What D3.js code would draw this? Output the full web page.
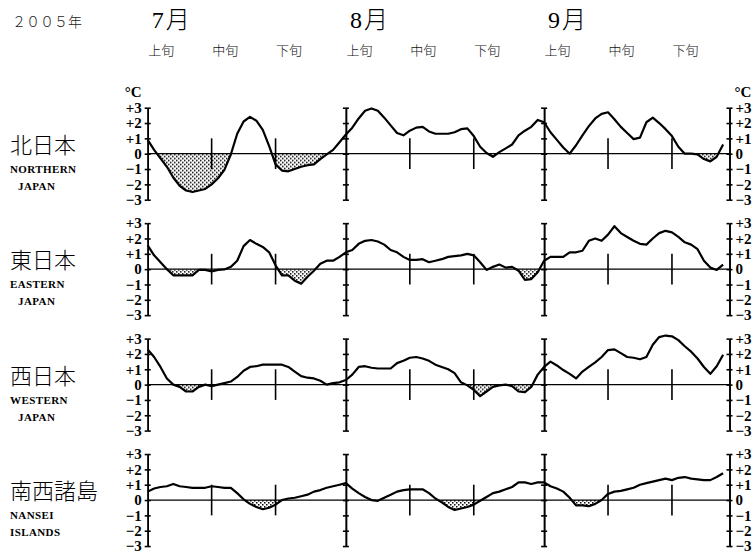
<!DOCTYPE html>
<html>
<head>
<meta charset="utf-8">
<script src="https://cdn.jsdelivr.net/npm/d3@7"></script>
<style>
  body { margin: 0; background: #fff; }
  svg { display: block; }
  .yaxis text { font-family: "Liberation Serif", serif; font-weight: bold; font-size: 15px; fill: #000; }
  .yaxis path, .yaxis line { stroke: #000; stroke-width: 1.6; }
</style>
</head>
<body>
<div id="chart"></div>
<script>
var svgWidth = 755;
var svgHeight = 556;

// labels
var yearLabel = "２００５年";
var monthLabels = ["7月", "8月", "9月"];
var monthStarts = [0, 31, 62];
var dekadLabels = ["上旬", "中旬", "下旬"];
var dekadOffsets = [0, 10, 20];
var regionNames = ["北日本", "東日本", "西日本", "南西諸島"];
var regionSub = [["NORTHERN", "JAPAN"], ["EASTERN", "JAPAN"], ["WESTERN", "JAPAN"], ["NANSEI", "ISLANDS"]];
var yTicks = [-3, -2, -1, 0, 1, 2, 3];

// daily anomaly (°C), 1 Jul - 30 Sep
var north = [0.9, 0.25, -0.3, -0.85, -1.55, -2.1, -2.4, -2.5, -2.4, -2.3,
  -2.0, -1.6, -1.05, -0.05, 1.3, 2.1, 2.4, 2.15, 1.55, 0.5,
  -0.7, -1.1, -1.15, -1.0, -0.85, -0.75, -0.7, -0.35, -0.05, 0.25,
  0.75, 1.25, 1.7, 2.3, 2.8, 2.95, 2.8, 2.35, 1.85, 1.35,
  1.2, 1.5, 1.7, 1.75, 1.45, 1.3, 1.3, 1.3, 1.4, 1.6,
  1.65, 1.15, 0.45, 0.05, -0.2, 0.1, 0.35, 0.6, 1.2, 1.5,
  1.75, 2.2, 2.05, 1.4, 0.9, 0.4, 0.0, 0.55, 1.2, 1.8,
  2.3, 2.6, 2.7, 2.25, 1.75, 1.35, 0.95, 1.05, 2.05, 2.35,
  2.0, 1.6, 1.15, 0.45, 0.0, 0.0, -0.05, -0.35, -0.5, -0.2,
  0.6];
var east = [1.55, 0.9, 0.45, 0.0, -0.4, -0.4, -0.4, -0.4, -0.05, -0.05,
  -0.15, -0.05, -0.02, 0.15, 0.55, 1.5, 1.9, 1.65, 1.45, 1.1,
  0.25, -0.4, -0.4, -0.75, -0.95, -0.5, -0.1, 0.35, 0.55, 0.55,
  0.8, 1.1, 1.25, 1.65, 1.85, 1.9, 1.8, 1.6, 1.25, 1.1,
  0.8, 0.6, 0.6, 0.65, 0.45, 0.55, 0.65, 0.8, 0.85, 0.9,
  1.0, 0.9, 0.45, -0.05, 0.15, 0.3, 0.1, 0.15, -0.1, -0.7,
  -0.65, -0.2, 0.55, 0.8, 0.8, 0.8, 1.1, 1.1, 1.2, 1.85,
  2.0, 1.85, 2.25, 2.8, 2.35, 2.1, 1.85, 1.65, 1.6, 2.0,
  2.35, 2.5, 2.4, 2.1, 1.75, 1.6, 1.3, 0.55, 0.1, -0.05,
  0.3];
var west = [2.3, 1.8, 1.15, 0.4, 0.0, -0.15, -0.45, -0.45, -0.15, 0.0,
  -0.1, 0.0, 0.1, 0.2, 0.5, 0.9, 1.15, 1.2, 1.3, 1.3,
  1.3, 1.3, 1.15, 0.85, 0.55, 0.45, 0.4, 0.25, 0.0, 0.1,
  0.15, 0.3, 0.65, 1.15, 1.2, 1.1, 1.05, 1.05, 1.05, 1.4,
  1.55, 1.75, 1.8, 1.7, 1.55, 1.3, 1.15, 1.0, 0.75, 0.15,
  -0.05, -0.35, -0.75, -0.45, -0.15, -0.05, 0.0, -0.1, -0.45, -0.5,
  -0.15, 0.65, 1.15, 1.5, 1.25, 0.95, 0.7, 0.4, 0.85, 1.15,
  1.45, 1.8, 2.25, 2.3, 2.05, 1.8, 1.75, 1.65, 1.8, 2.6,
  3.1, 3.2, 3.15, 2.9, 2.5, 2.15, 1.7, 1.15, 0.7, 1.2,
  1.95];
var nansei = [0.55, 0.75, 0.85, 0.9, 1.05, 0.9, 0.85, 0.8, 0.8, 0.8,
  0.9, 0.85, 0.8, 0.8, 0.45, 0.05, -0.25, -0.45, -0.6, -0.5,
  -0.3, 0.0, 0.1, 0.15, 0.25, 0.35, 0.55, 0.65, 0.8, 0.9,
  1.0, 1.1, 0.75, 0.45, 0.2, 0.0, -0.05, 0.15, 0.35, 0.55,
  0.65, 0.7, 0.7, 0.7, 0.45, 0.1, -0.15, -0.45, -0.65, -0.55,
  -0.45, -0.3, -0.05, 0.2, 0.45, 0.55, 0.7, 0.85, 1.15, 1.15,
  1.05, 1.15, 1.15, 0.9, 0.75, 0.55, 0.15, -0.35, -0.35, -0.4,
  -0.25, 0.0, 0.4, 0.55, 0.6, 0.7, 0.8, 1.0, 1.1, 1.2,
  1.3, 1.4, 1.3, 1.45, 1.5, 1.4, 1.35, 1.3, 1.3, 1.5,
  1.75];
var series = [north, east, west, nansei];

var cjk = "'Noto Sans CJK JP', sans-serif";
var serif = "'Liberation Serif', serif";

var svg = d3.select("#chart")
  .append("svg")
  .attr("width", svgWidth)
  .attr("height", svgHeight);

// stipple for below-normal areas
var pat = svg.append("defs").append("pattern")
  .attr("id", "dots")
  .attr("patternUnits", "userSpaceOnUse")
  .attr("width", 4)
  .attr("height", 4);
pat.append("rect").attr("x", 0).attr("y", 0).attr("width", 1.5).attr("height", 1.5).attr("fill", "#000");
pat.append("rect").attr("x", 2).attr("y", 2).attr("width", 1.5).attr("height", 1.5).attr("fill", "#000");

var x = d3.scaleLinear().domain([0, 91]).range([147.7, 729.5]);
var lastDay = 91;

// header
svg.append("text")
  .attr("x", 12).attr("y", 27)
  .style("font-family", cjk).style("font-size", "14px").style("font-weight", 300)
  .attr("fill", "#222")
  .text(yearLabel);

svg.selectAll(".month")
  .data(monthLabels)
  .enter()
  .append("text")
  .attr("x", (d, i) => x(monthStarts[i]) + 4)
  .attr("y", 28)
  .style("font-family", serif + ", " + cjk)
  .style("font-size", "24px")
  .style("font-weight", 300)
  .style("letter-spacing", "2px")
  .text(d => d);

monthStarts.forEach(function(m) {
  svg.selectAll(null)
    .data(dekadLabels)
    .enter()
    .append("text")
    .attr("x", (d, j) => x(m + dekadOffsets[j]) + 0.5)
    .attr("y", 55)
    .style("font-family", cjk)
    .style("font-size", "13px")
    .style("font-weight", 300)
    .attr("fill", "#111")
    .text(d => d);
});

var fmt = d => d > 0 ? "+" + d : d < 0 ? "\u2212" + Math.abs(d) : "0";

series.forEach(function(vals, i) {
  var zero = 153.7 + i * 115.45;
  var g = svg.append("g").attr("transform", `translate(0, ${zero - 46})`);
  var y = d3.scaleLinear().domain([-3, 3]).range([92, 0]);

  // region names
  svg.append("text")
    .attr("x", 10).attr("y", zero - 1)
    .style("font-family", cjk).style("font-size", "22px").style("font-weight", 300)
    .text(regionNames[i]);
  svg.selectAll(null)
    .data(regionSub[i])
    .enter()
    .append("text")
    .attr("x", t => t === "JAPAN" ? 18 : 10)
    .attr("y", (t, j) => zero + 19 + j * 17)
    .style("font-family", serif).style("font-weight", "bold").style("font-size", "11px")
    .style("letter-spacing", "0.4px")
    .text(t => t);

  // stippled area below zero
  var clipId = "clip" + i;
  g.append("clipPath").attr("id", clipId)
    .append("rect")
    .attr("x", x(0)).attr("y", y(0))
    .attr("width", x(lastDay) - x(0)).attr("height", 60);

  var area = d3.area()
    .x((d, k) => x(k))
    .y0(y(0))
    .y1(d => y(d));

  g.append("path")
    .datum(vals)
    .attr("d", area)
    .attr("fill", "url(#dots)")
    .attr("clip-path", `url(#${clipId})`);

  // zero line
  g.append("line")
    .attr("x1", x(0)).attr("x2", x(lastDay))
    .attr("y1", y(0)).attr("y2", y(0))
    .attr("stroke", "#000").attr("stroke-width", 1.2);

  // dekad ticks
  monthStarts.forEach(function(m) {
    [10, 20].forEach(function(off) {
      g.append("line")
        .attr("x1", x(m + off)).attr("x2", x(m + off))
        .attr("y1", y(1)).attr("y2", y(-1))
        .attr("stroke", "#000").attr("stroke-width", 1.6);
    });
  });

  // month axes
  [0, 31, 62, lastDay].forEach(function(m) {
    var left = d3.axisLeft(y).tickValues(yTicks).tickSizeInner(3).tickSizeOuter(0);
    var right = d3.axisRight(y).tickValues(yTicks).tickSizeInner(3).tickSizeOuter(0);
    if (m === 0) {
      left.tickFormat(fmt);
      right.tickFormat("");
    } else if (m === lastDay) {
      left.tickFormat("");
      right.tickFormat(fmt);
    } else {
      left.tickFormat("");
      right.tickFormat("");
    }
    g.append("g").attr("class", "yaxis")
      .attr("transform", `translate(${x(m)}, 0)`)
      .call(left);
    g.append("g").attr("class", "yaxis")
      .attr("transform", `translate(${x(m)}, 0)`)
      .call(right);
  });

  // curve
  g.append("path")
    .datum(vals)
    .attr("d", d3.line().x((d, k) => x(k)).y(d => y(d)))
    .attr("fill", "none")
    .attr("stroke", "#000")
    .attr("stroke-width", 2.2)
    .attr("stroke-linejoin", "round");

  if (i === 0) {
    g.append("text")
      .attr("x", x(0) - 23).attr("y", y(3) - 10.5)
      .style("font-family", serif).style("font-weight", "bold").style("font-size", "15px")
      .text("°C");
    g.append("text")
      .attr("x", x(lastDay) + 5).attr("y", y(3) - 10.5)
      .style("font-family", serif).style("font-weight", "bold").style("font-size", "15px")
      .text("°C");
  }
});
</script>
</body>
</html>
